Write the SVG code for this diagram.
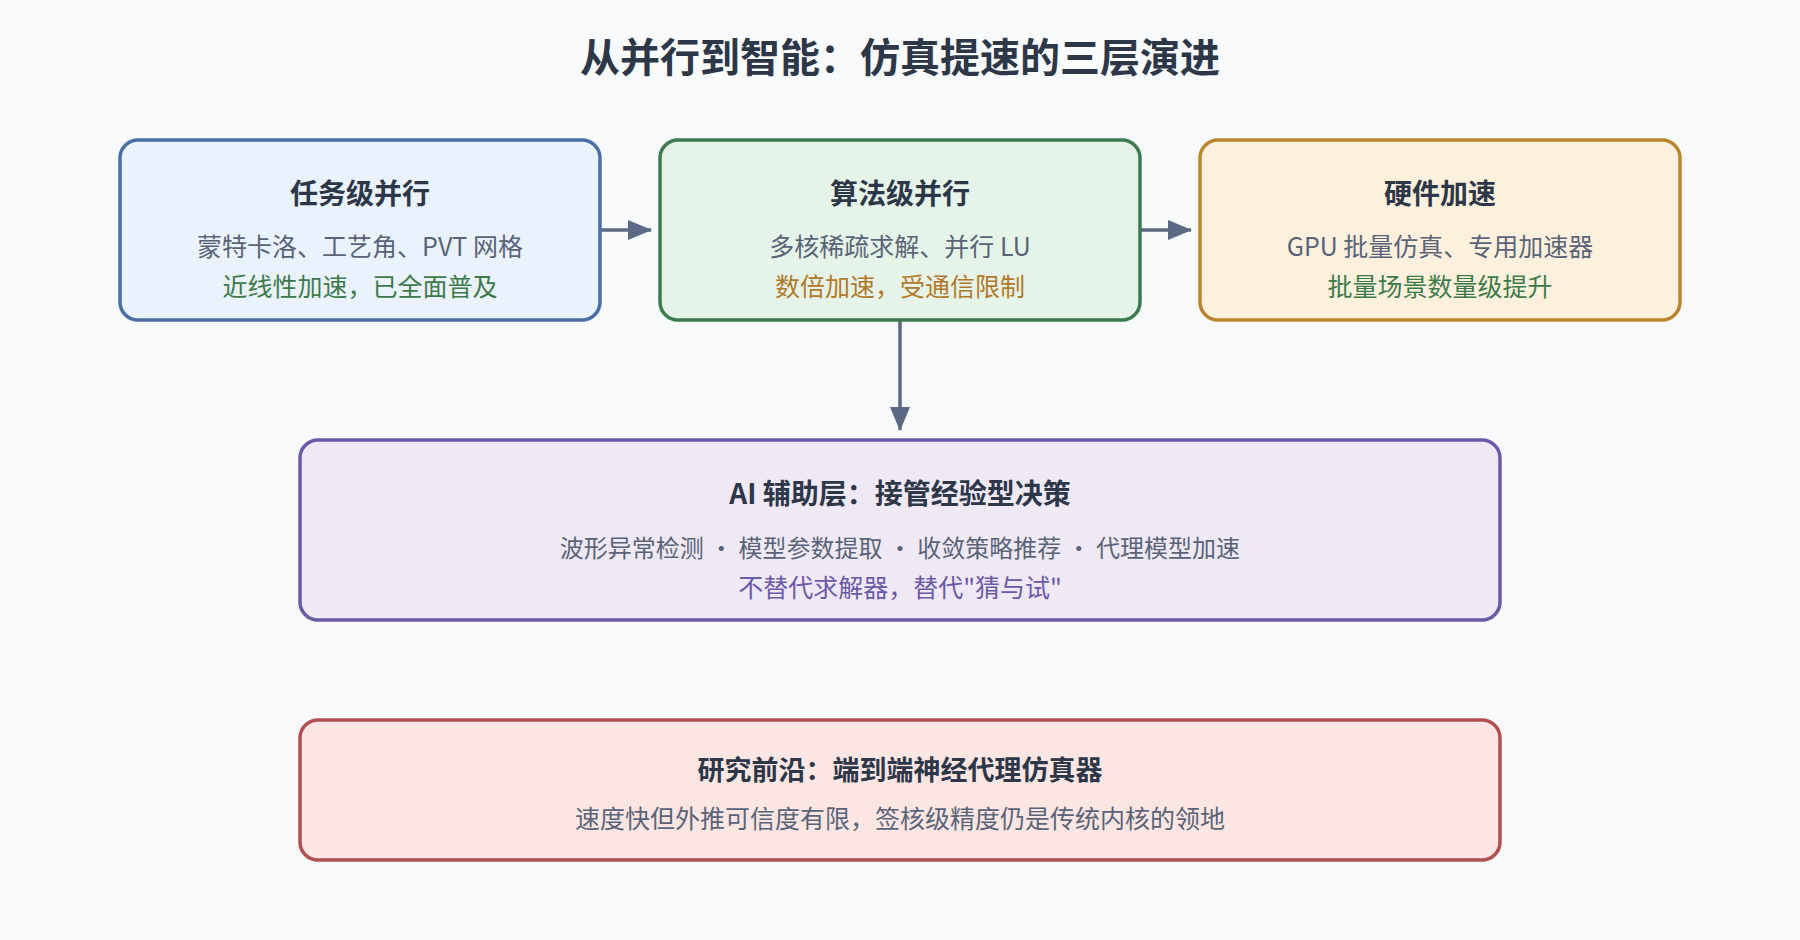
<svg xmlns="http://www.w3.org/2000/svg" width="1800" height="940" viewBox="0 0 1800 940">
<style>
text{font-family:"Noto Sans CJK SC","Noto Sans",sans-serif;text-anchor:middle}
.t{font-size:40px;font-weight:bold;fill:#2d3748}
.h{font-size:28px;font-weight:bold;fill:#2d3748}
.b{font-size:25px;fill:#5a6478}
.g{font-size:25px;fill:#3d7a4a}
.o{font-size:25px;fill:#b07a2a}
.p{font-size:25px;fill:#6b5aa8}
rect{stroke-width:3.5}
.c{stroke:#5a6a85;stroke-width:3.5;fill:none}
</style>
<defs><marker id="ar" markerWidth="24" markerHeight="24" refX="23" refY="12" orient="auto" markerUnits="userSpaceOnUse" viewBox="0 0 24 24"><path d="M0,2L24,12L0,22z" fill="#5a6a85"/></marker></defs>
<rect width="1800" height="940" fill="#f8fafc" style="stroke:none"/>
<text class="t" x="900" y="72">从并行到智能：仿真提速的三层演进</text>
<g id="connectors">
<line class="c" x1="600" y1="230" x2="651" y2="230" marker-end="url(#ar)"/>
<line class="c" x1="1140" y1="230" x2="1191" y2="230" marker-end="url(#ar)"/>
<line class="c" x1="900" y1="321" x2="900" y2="430" marker-end="url(#ar)"/>
</g>
<g id="task"><rect x="120" y="140" width="480" height="180" rx="18" fill="#eaf2fd" stroke="#4a6fa5"/>
<text class="h" x="360" y="204">任务级并行</text><text class="b" x="360" y="256">蒙特卡洛、工艺角、PVT 网格</text><text class="g" x="360" y="296">近线性加速，已全面普及</text></g>
<g id="algo"><rect x="660" y="140" width="480" height="180" rx="18" fill="#e6f3e8" stroke="#3d7a50"/>
<text class="h" x="900" y="204">算法级并行</text><text class="b" x="900" y="256">多核稀疏求解、并行 LU</text><text class="o" x="900" y="296">数倍加速，受通信限制</text></g>
<g id="hw"><rect x="1200" y="140" width="480" height="180" rx="18" fill="#fdf1de" stroke="#b8862e"/>
<text class="h" x="1440" y="204">硬件加速</text><text class="b" x="1440" y="256">GPU 批量仿真、专用加速器</text><text class="g" x="1440" y="296">批量场景数量级提升</text></g>
<g id="ai"><rect x="300" y="440" width="1200" height="180" rx="18" fill="#efe8f5" stroke="#6b5aa8"/>
<text class="h" x="900" y="504">AI 辅助层：接管经验型决策</text><text class="b" x="900" y="557" style="font-size:24px">波形异常检测 · 模型参数提取 · 收敛策略推荐 · 代理模型加速</text><text class="p" x="900" y="597">不替代求解器，替代"猜与试"</text></g>
<g id="frontier"><rect x="300" y="720" width="1200" height="140" rx="18" fill="#fce6e4" stroke="#b05050"/>
<text class="h" x="900" y="780" style="font-size:27px">研究前沿：端到端神经代理仿真器</text><text class="b" x="900" y="828">速度快但外推可信度有限，签核级精度仍是传统内核的领地</text></g>
</svg>
